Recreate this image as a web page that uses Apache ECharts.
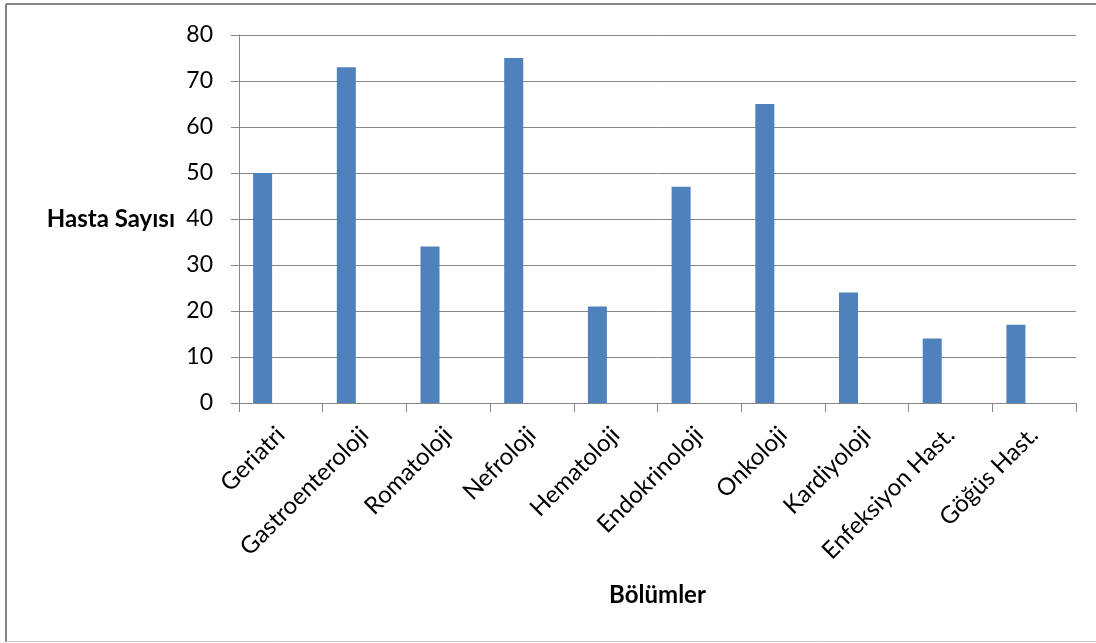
<!DOCTYPE html>
<html>
<head>
<meta charset="utf-8">
<script src="https://cdn.jsdelivr.net/npm/echarts@6/dist/echarts.min.js"></script>
<style>html,body{margin:0;padding:0;background:#fff;}#c{width:1096px;height:643px;}</style>
</head>
<body>
<div id="c"></div>
<script>
const categories = ['Geriatri','Gastroenteroloji','Romatoloji','Nefroloji','Hematoloji','Endokrinoloji','Onkoloji','Kardiyoloji','Enfeksiyon Hast.','Göğüs Hast.'];
const hastaSayisi = [50, 73, 34, 75, 21, 47, 65, 24, 14, 17];
const placeholder = [null, null, null, null, null, null, null, null, null, null];
const yTicks = [0, 10, 20, 30, 40, 50, 60, 70, 80];

const chart = echarts.init(document.getElementById('c'));
const font = 'Lato, "Liberation Sans", sans-serif';
chart.setOption({
  animation: false,
  backgroundColor: '#fff',
  textStyle: { fontFamily: font },
  grid: { left: 239, right: 20, top: 35, bottom: 240 },
  graphic: [
    { type: 'line', shape: { x1: 6, y1: 4, x2: 1096, y2: 4 }, style: { stroke: '#858585', lineWidth: 2 } },
    { type: 'line', shape: { x1: 6, y1: 4, x2: 6, y2: 642 }, style: { stroke: '#858585', lineWidth: 2 } },
    { type: 'line', shape: { x1: 6, y1: 641.5, x2: 1096, y2: 641.5 }, style: { stroke: '#c8c8c8', lineWidth: 1 } }
  ],
  xAxis: {
    type: 'category',
    data: categories,
    name: 'Bölümler',
    nameLocation: 'middle',
    nameGap: 180,
    nameTextStyle: { fontSize: 24, fontWeight: 'bold', color: '#000', fontFamily: font },
    axisLine: { lineStyle: { color: '#868686', width: 1 } },
    axisTick: { show: true, length: 9, alignWithLabel: false, lineStyle: { color: '#868686' } },
    axisLabel: { rotate: 45, fontSize: 24, color: '#000', margin: 28, interval: 0, fontFamily: font }
  },
  yAxis: {
    type: 'value',
    min: 0, max: 80, interval: 10,
    name: 'Hasta Sayısı',
    nameLocation: 'middle',
    nameRotate: 0,
    nameGap: 64,
    nameTextStyle: { fontSize: 24, fontWeight: 'bold', color: '#000', fontFamily: font, padding: [2, 0, 0, 0] },
    axisLine: { show: true, lineStyle: { color: '#868686' } },
    axisTick: { show: true, length: 8, lineStyle: { color: '#868686' } },
    axisLabel: { fontSize: 23, color: '#000', margin: 26, fontFamily: font,
      formatter: v => yTicks.includes(v) ? String(v) : '' },
    splitLine: { lineStyle: { color: '#868686', width: 1 } }
  },
  series: [
    { type: 'bar', data: hastaSayisi, barWidth: 19, barGap: '92%', itemStyle: { color: '#4F81BD' } },
    { type: 'bar', data: placeholder, barWidth: 19, itemStyle: { color: '#C0504D' } }
  ]
});
</script>
</body>
</html>
